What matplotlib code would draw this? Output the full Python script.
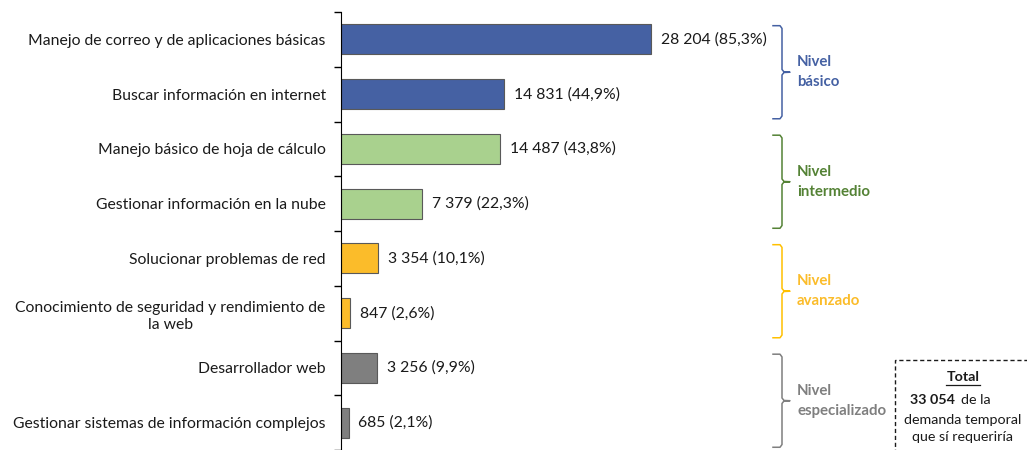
import matplotlib.pyplot as plt
from matplotlib.transforms import blended_transform_factory

plt.rcParams['font.family'] = ['Lato', 'DejaVu Sans']

categories = [
    'Manejo de correo y de aplicaciones básicas',
    'Buscar información en internet',
    'Manejo básico de hoja de cálculo',
    'Gestionar información en la nube',
    'Solucionar problemas de red',
    'Conocimiento de seguridad y rendimiento de\nla web',
    'Desarrollador web',
    'Gestionar sistemas de información complejos',
]
values = [28204, 14831, 14487, 7379, 3354, 847, 3256, 685]
value_labels = ['28 204 (85,3%)', '14 831 (44,9%)', '14 487 (43,8%)', '7 379 (22,3%)',
                '3 354 (10,1%)', '847 (2,6%)', '3 256 (9,9%)', '685 (2,1%)']
groups = ['Nivel\nbásico', 'Nivel\nintermedio', 'Nivel\navanzado', 'Nivel\nespecializado']
group_rows = [(0, 1), (2, 3), (4, 5), (6, 7)]
group_colors = ['#4561A3', '#A9D18E', '#FBBC2A', '#7F7F7F']
text_colors = ['#4561A3', '#548235', '#FBBC2A', '#7F7F7F']
bracket_colors = ['#4561A3', '#548235', '#FFC000', '#7F7F7F']

W, H = 1027, 450
fig = plt.figure(figsize=(W / 100, H / 100), dpi=100)
ax = fig.add_axes([341 / W, 0, 420 / W, 438 / H])

bar_colors = []
for c, (a, b) in zip(group_colors, group_rows):
    bar_colors += [c] * (b - a + 1)

y = list(range(len(categories)))
ax.barh(y, values, height=0.55, color=bar_colors, edgecolor='#595959', linewidth=0.8)
for yi, v, lab in zip(y, values, value_labels):
    ax.text(v + 900, yi, lab, va='center', ha='left', fontsize=11.3, color='#1a1a1a')

ax.set_xlim(0, 420 / ((650.7 - 341) / 28204))
ax.set_ylim(len(categories) - 0.5, -0.5)
ax.set_yticks(y)
ax.set_yticklabels(categories, fontsize=11.3, color='#1a1a1a', multialignment='center',
                   linespacing=1.35)
ax.tick_params(axis='y', which='major', length=0, pad=11)
ax.set_yticks([i - 0.5 for i in range(len(categories) + 1)], minor=True)
ax.tick_params(axis='y', which='minor', length=5, width=1, color='black')
ax.set_xticks([])
for s in ['top', 'right', 'bottom']:
    ax.spines[s].set_visible(False)
ax.spines['left'].set_color('black')

# curly brackets on the right, x in figure px, y in data
tr = blended_transform_factory(fig.transFigure, ax.transData)
xv = 782 / W
xl = 773 / W
xc = 790 / W
for (a, b), col, tcol, name in zip(group_rows, bracket_colors, text_colors, groups):
    top = a - 0.25
    bot = b + 0.45
    mid = (top + bot) / 2
    r = 0.05
    xs = [xl, xv - 2 / W, xv, xv, xv + 2 / W, xc, xv + 2 / W, xv, xv, xv - 2 / W, xl]
    ys = [top, top, top + r, mid - r, mid - 0.005, mid, mid + 0.005, mid + r, bot - r, bot, bot]
    ax.plot(xs, ys, color=col, lw=1.1, transform=tr, clip_on=False)
    ax.text(797 / W, mid, name, transform=tr, color=tcol, fontsize=10.8,
            fontweight='bold', va='center', ha='left', linespacing=1.55)

# Total box
fig.add_artist(plt.Rectangle((895 / W, -0.1), 200 / W, 0.1 + (1 - 360 / H),
                             transform=fig.transFigure, fill=False,
                             linestyle=(0, (3, 2)), lw=1, edgecolor='#1a1a1a'))
cx = 963 / W
fig.text(cx, 1 - 377 / H, 'Total', ha='center', va='center', fontsize=10.3,
         fontweight='bold', color='#1a1a1a')
fig.add_artist(plt.Line2D([cx - 17 / W, cx + 17 / W], [1 - 385 / H] * 2,
                          transform=fig.transFigure, color='#1a1a1a', lw=0.9))
fig.text(cx - 8 / W, 1 - 400 / H, '33 054', ha='right', va='center', fontsize=10.3,
         fontweight='bold', color='#1a1a1a')
fig.text(cx - 2 / W, 1 - 400 / H, 'de la', ha='left', va='center', fontsize=10.3,
         color='#1a1a1a')
fig.text(cx, 1 - 420 / H, 'demanda temporal', ha='center', va='center', fontsize=10.3,
         color='#1a1a1a')
fig.text(cx, 1 - 437 / H, 'que sí requeriría', ha='center', va='center', fontsize=10.3,
         color='#1a1a1a')

fig.savefig('out.png', dpi=100)
